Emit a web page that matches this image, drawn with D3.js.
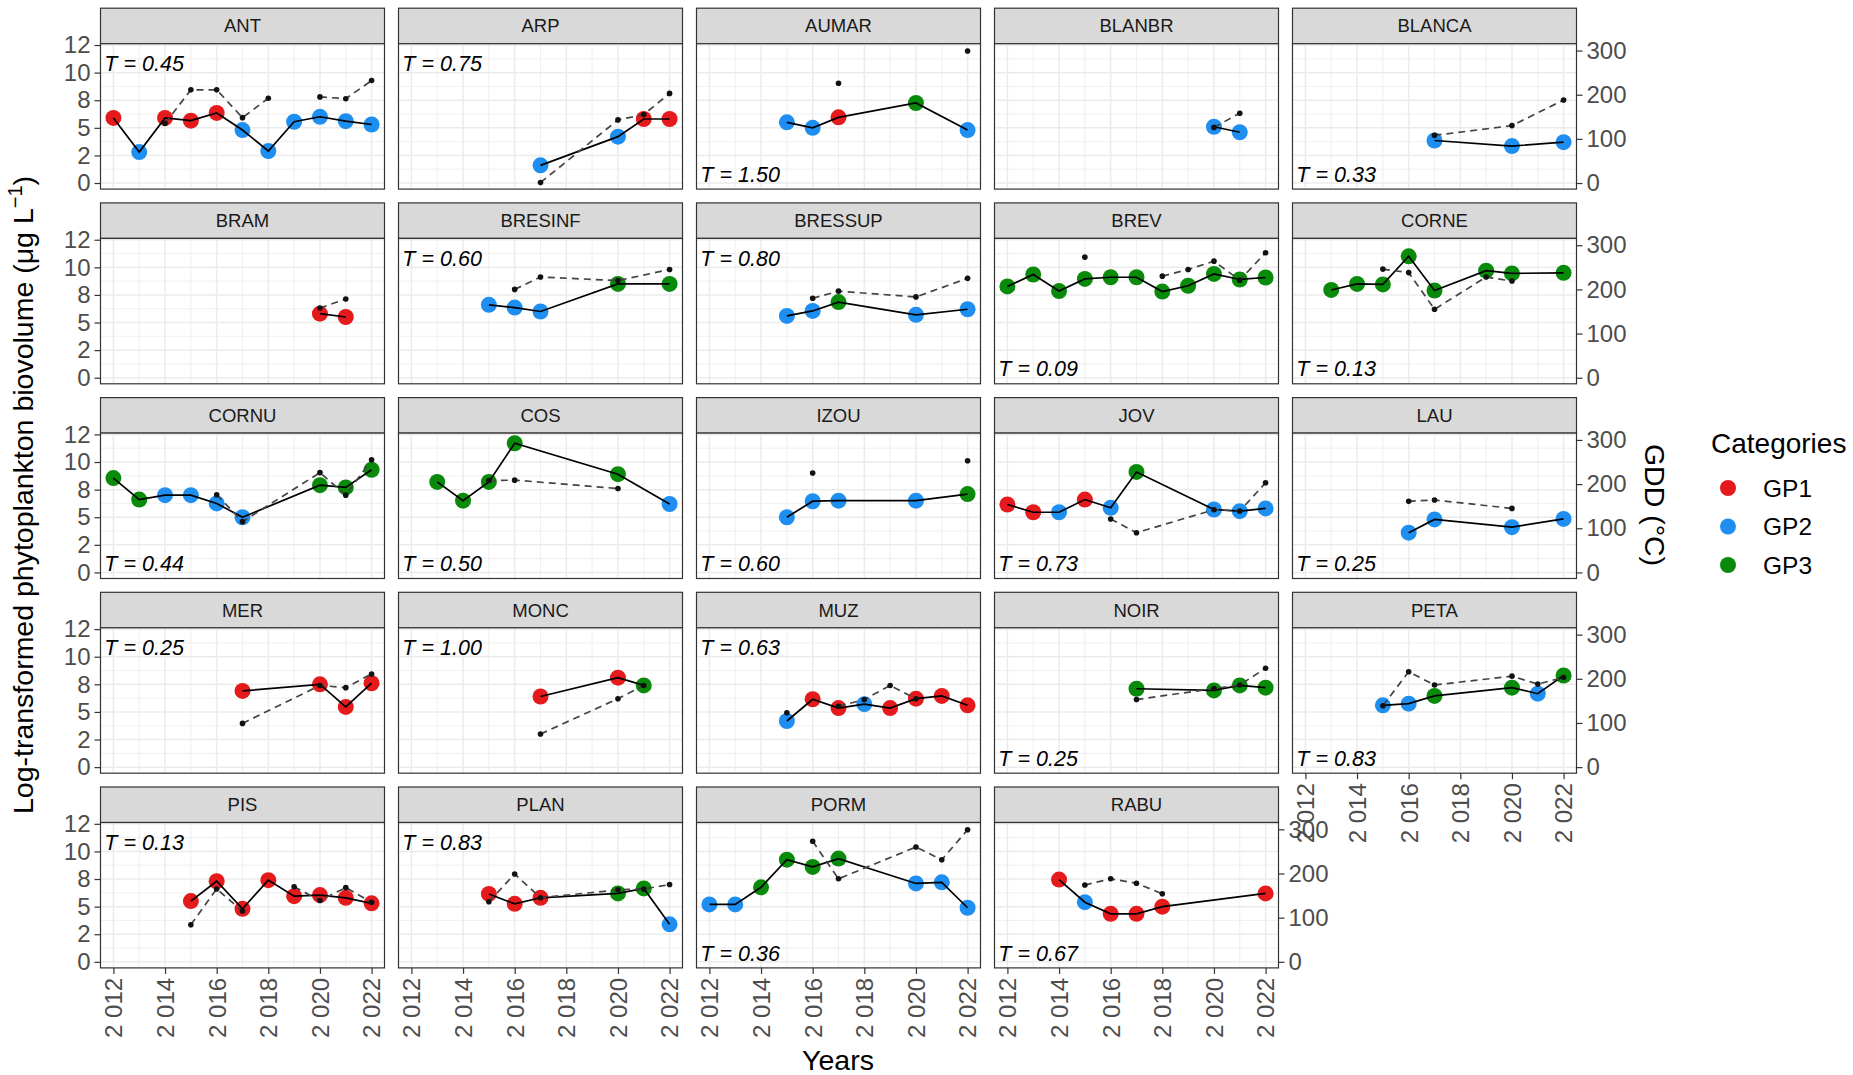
<!DOCTYPE html>
<html>
<head>
<meta charset="utf-8">
<script src="https://cdn.jsdelivr.net/npm/d3@7"></script>
<style>
  body { margin: 0; background: #fff; }
  svg { display: block; }
  text { font-family: "Liberation Sans", Arial, Helvetica, sans-serif; }
</style>
</head>
<body>
<svg id="chart" width="1853" height="1075"></svg>
<script>
// ---- Data: one entry per sampling site (facet) ----
const sites = ["ANT","ARP","AUMAR","BLANBR","BLANCA",
               "BRAM","BRESINF","BRESSUP","BREV","CORNE",
               "CORNU","COS","IZOU","JOV","LAU",
               "MER","MONC","MUZ","NOIR","PETA",
               "PIS","PLAN","PORM","RABU"];

// Sampling years for each site
const siteYears = [
  [2012,2013,2014,2015,2016,2017,2018,2019,2020,2021,2022],
  [2017,2020,2021,2022],
  [2015,2016,2017,2020,2022],
  [2020,2021],
  [2017,2020,2022],
  [2020,2021],
  [2015,2016,2017,2020,2022],
  [2015,2016,2017,2020,2022],
  [2012,2013,2014,2015,2016,2017,2018,2019,2020,2021,2022],
  [2013,2014,2015,2016,2017,2019,2020,2022],
  [2012,2013,2014,2015,2016,2017,2020,2021,2022],
  [2013,2014,2015,2016,2020,2022],
  [2015,2016,2017,2020,2022],
  [2012,2013,2014,2015,2016,2017,2020,2021,2022],
  [2016,2017,2020,2022],
  [2017,2020,2021,2022],
  [2017,2020,2021],
  [2015,2016,2017,2018,2019,2020,2021,2022],
  [2017,2020,2021,2022],
  [2015,2016,2017,2020,2021,2022],
  [2015,2016,2017,2018,2019,2020,2021,2022],
  [2015,2016,2017,2020,2021,2022],
  [2012,2013,2014,2015,2016,2017,2020,2021,2022],
  [2014,2015,2016,2017,2018,2022]
];

// Log-transformed phytoplankton biovolume
const siteBio = [
  [5.9,2.8,5.9,5.65,6.35,4.8,2.9,5.55,6.0,5.6,5.3],
  [1.6,4.2,5.8,5.8],
  [5.5,5.0,5.95,7.25,4.8],
  [5.1,4.6],
  [3.85,3.35,3.7],
  [5.8,5.5],
  [6.6,6.35,6.0,8.5,8.5],
  [5.6,6.05,6.85,5.7,6.2],
  [8.27,9.35,7.85,8.95,9.1,9.1,7.8,8.33,9.4,8.9,9.08],
  [7.95,8.5,8.45,11.0,7.9,9.7,9.45,9.5],
  [8.55,6.6,7.0,7.0,6.25,5.0,7.9,7.7,9.3],
  [8.2,6.5,8.2,11.7,8.9,6.2],
  [5.0,6.45,6.5,6.5,7.1],
  [6.15,5.45,5.45,6.6,5.85,9.1,5.7,5.55,5.8],
  [3.6,4.8,4.1,4.85],
  [6.9,7.5,5.45,7.6],
  [6.4,8.1,7.4],
  [4.18,6.15,5.35,5.7,5.35,6.2,6.45,5.6],
  [7.1,6.95,7.4,7.2],
  [5.6,5.75,6.45,7.2,6.65,8.3],
  [5.5,7.3,4.8,7.4,5.95,6.05,5.8,5.3],
  [6.15,5.25,5.8,6.2,6.65,3.4],
  [5.2,5.2,6.75,9.25,8.6,9.35,7.1,7.2,4.9],
  [7.45,5.4,4.35,4.35,5.0,6.2]
];

// Phytoplankton category of each sample (1 = GP1, 2 = GP2, 3 = GP3)
const siteGroup = [
  [1,2,1,1,1,2,2,2,2,2,2],
  [2,2,1,1],
  [2,2,1,3,2],
  [2,2],
  [2,2,2],
  [1,1],
  [2,2,2,3,3],
  [2,2,3,2,2],
  [3,3,3,3,3,3,3,3,3,3,3],
  [3,3,3,3,3,3,3,3],
  [3,3,2,2,2,2,3,3,3],
  [3,3,3,3,3,2],
  [2,2,2,2,3],
  [1,1,2,1,2,3,2,2,2],
  [2,2,2,2],
  [1,1,1,1],
  [1,1,3],
  [2,1,1,2,1,1,1,1],
  [3,3,3,3],
  [2,2,3,3,2,3],
  [1,1,1,1,1,1,1,1],
  [1,1,1,3,3,2],
  [2,2,3,3,3,3,2,2,2],
  [1,2,1,1,1,1]
];

// Growing degree days (°C); null where not measured
const siteGdd = [
  [null,null,135,211,211,148,192,null,195,191,232],
  [1,143,155,203],
  [null,null,226,null,299],
  [126,158],
  [108,130,188],
  [158,178],
  [null,200,228,220,245],
  [null,180,196,183,225],
  [null,null,null,273,null,null,230,245,264,221,283],
  [null,null,246,238,155,228,219,null],
  [null,null,null,null,176,115,226,175,255],
  [null,null,208,209,190,null],
  [null,225,null,null,253],
  [null,null,null,null,121,90,142,139,203],
  [161,164,145,null],
  [99,185,180,211],
  [75,155,185],
  [123,null,138,153,185,155,null,null],
  [153,178,186,224],
  [139,216,186,206,188,203],
  [84,165,115,null,170,139,168,135],
  [136,199,145,163,165,175],
  [null,null,null,null,273,188,260,231,299],
  [null,174,188,178,154,null]
];

// Trend statistic per site and where its label sits
const tauValues = [0.45,0.75,1.50,null,0.33,
                   null,0.60,0.80,0.09,0.13,
                   0.44,0.50,0.60,0.73,0.25,
                   0.25,1.00,0.63,0.25,0.83,
                   0.13,0.83,0.36,0.67];
const tauPlacement = ["top","top","bottom",null,"bottom",
                      null,"top","top","bottom","bottom",
                      "bottom","bottom","bottom","bottom","bottom",
                      "top","top","top","bottom","bottom",
                      "top","top","bottom","bottom"];

const groupNames = ["GP1","GP2","GP3"];
const groupColors = ["#E41A1C","#1E8FF0","#0A8A0A"];

const yearTicks = [2012,2014,2016,2018,2020,2022];
const yearMinor = [2013,2015,2017,2019,2021];
const bioTicks = [0,2.5,5,7.5,10,12.5];
const bioTickLabels = ["0","2","5","8","10","12"];
const bioMinor = [1.25,3.75,6.25,8.75,11.25];
const gddTicks = [0,100,200,300];
const gddPerUnit = 25;   // secondary axis: GDD = 25 x biovolume units

// ---- Layout ----
const svg = d3.select("#chart");
const nCol = 5;
const panelW = 284, panelH = 145.4, stripH = 35.5;
const colStep = 298, rowStep = 194.7;
const left0 = 100.5, top0 = 43.7;

const x = d3.scaleLinear().domain([2011.5, 2022.5]).range([0, panelW]);
const y = d3.scaleLinear().domain([-0.55, 12.62]).range([panelH, 0]);
const yG = d3.scaleLinear().domain([-0.55 * gddPerUnit, 12.62 * gddPerUnit]).range([panelH, 0]);

const yearFmt = d3.formatLocale({decimal: ".", thousands: " ", grouping: [3], currency: ["", ""]}).format(",");
const tauFmt = d3.format(".2f");

const axisFont = 24, axisCol = "#4D4D4D", tickCol = "#333333";

function styleAxis(g) {
  g.select(".domain").remove();
  g.selectAll(".tick line").attr("stroke", tickCol).attr("stroke-width", 1.2);
  g.selectAll(".tick text").attr("fill", axisCol).style("font-size", axisFont + "px");
}

sites.forEach((site, i) => {
  const c = i % nCol, r = Math.floor(i / nCol);
  const px = left0 + c * colStep, py = top0 + r * rowStep;
  const g = svg.append("g").attr("transform", `translate(${px},${py})`);

  // strip
  g.append("rect").attr("x", 0).attr("y", -stripH).attr("width", panelW).attr("height", stripH)
    .attr("fill", "#D9D9D9").attr("stroke", "#333333").attr("stroke-width", 1.2);
  g.append("text").attr("x", panelW / 2).attr("y", -stripH / 2).attr("dy", "0.35em")
    .attr("text-anchor", "middle").attr("fill", "#1A1A1A").style("font-size", "18.5px").text(site);

  // background + grid
  g.append("rect").attr("width", panelW).attr("height", panelH).attr("fill", "#fff");
  const grid = g.append("g");
  grid.selectAll(".vmin").data(yearMinor).join("line")
    .attr("x1", d => x(d)).attr("x2", d => x(d)).attr("y1", 0).attr("y2", panelH)
    .attr("stroke", "#EBEBEB").attr("stroke-width", 0.8);
  grid.selectAll(".hmin").data(bioMinor).join("line")
    .attr("y1", d => y(d)).attr("y2", d => y(d)).attr("x1", 0).attr("x2", panelW)
    .attr("stroke", "#EBEBEB").attr("stroke-width", 0.8);
  grid.selectAll(".vmaj").data(yearTicks).join("line")
    .attr("x1", d => x(d)).attr("x2", d => x(d)).attr("y1", 0).attr("y2", panelH)
    .attr("stroke", "#EBEBEB").attr("stroke-width", 1.5);
  grid.selectAll(".hmaj").data(bioTicks).join("line")
    .attr("y1", d => y(d)).attr("y2", d => y(d)).attr("x1", 0).attr("x2", panelW)
    .attr("stroke", "#EBEBEB").attr("stroke-width", 1.5);

  const rows = siteYears[i].map((yr, k) => ({
    year: yr, bio: siteBio[i][k], grp: siteGroup[i][k], gdd: siteGdd[i][k]
  }));

  // biovolume points
  g.selectAll(".bio").data(rows).join("circle")
    .attr("cx", d => x(d.year)).attr("cy", d => y(d.bio)).attr("r", 8)
    .attr("fill", d => groupColors[d.grp - 1]);

  // biovolume line
  const bioLine = d3.line().defined(d => d.bio != null).x(d => x(d.year)).y(d => y(d.bio));
  g.append("path").datum(rows).attr("d", bioLine)
    .attr("fill", "none").attr("stroke", "#000").attr("stroke-width", 1.7);

  // GDD dashed line and dots
  const gddLine = d3.line().defined(d => d.gdd != null).x(d => x(d.year)).y(d => yG(d.gdd));
  g.append("path").datum(rows).attr("d", gddLine)
    .attr("fill", "none").attr("stroke", "#444").attr("stroke-width", 1.7)
    .attr("stroke-dasharray", "7,5");
  g.selectAll(".gdd").data(rows.filter(d => d.gdd != null)).join("circle")
    .attr("cx", d => x(d.year)).attr("cy", d => yG(d.gdd)).attr("r", 2.8).attr("fill", "#111");

  // trend label
  if (tauValues[i] != null) {
    const yy = tauPlacement[i] === "top" ? y(10.8) : y(0.8);
    g.append("text").attr("x", x(2011.65)).attr("y", yy).attr("dy", "0.35em")
      .attr("fill", "#000").style("font-size", "21.5px").style("font-style", "italic")
      .text("T = " + tauFmt(tauValues[i]));
  }

  // panel border
  g.append("rect").attr("width", panelW).attr("height", panelH)
    .attr("fill", "none").attr("stroke", "#333333").attr("stroke-width", 1.2);

  // left axis on the first column
  if (c === 0) {
    const ax = g.append("g").call(d3.axisLeft(y).tickValues(bioTicks)
      .tickFormat((d, k) => bioTickLabels[k]).tickSize(6).tickPadding(4));
    styleAxis(ax);
  }
  // right (GDD) axis on the last panel of each row
  if (c === nCol - 1 || i === sites.length - 1) {
    const ax = g.append("g").attr("transform", `translate(${panelW},0)`)
      .call(d3.axisRight(yG).tickValues(gddTicks).tickSize(6).tickPadding(4));
    styleAxis(ax);
  }
  // bottom axis where no panel sits below
  if (i + nCol >= sites.length) {
    const ax = g.append("g").attr("transform", `translate(0,${panelH})`)
      .call(d3.axisBottom(x).tickValues(yearTicks).tickFormat(yearFmt).tickSize(6).tickPadding(4));
    styleAxis(ax);
    ax.selectAll(".tick text")
      .attr("transform", "rotate(-90)").attr("x", -10).attr("y", 0).attr("dy", "0.35em")
      .style("text-anchor", "end");
  }
});

// ---- Axis titles ----
const yTitle = svg.append("text")
  .attr("transform", "translate(33,495) rotate(-90)")
  .attr("text-anchor", "middle").attr("fill", "#000").style("font-size", "28.5px");
yTitle.append("tspan").text("Log-transformed phytoplankton biovolume (\u03bcg L");
yTitle.append("tspan").attr("dy", -11).style("font-size", "20px").text("\u22121");
yTitle.append("tspan").attr("dy", 11).text(")");

svg.append("text").attr("x", 838).attr("y", 1060).attr("dy", "0.35em")
  .attr("text-anchor", "middle").attr("fill", "#000").style("font-size", "28.5px").text("Years");

svg.append("text").attr("transform", "translate(1655,505) rotate(90)")
  .attr("text-anchor", "middle").attr("dy", "0.35em").attr("fill", "#000")
  .style("font-size", "28.5px").text("GDD (\u00b0C)");

// ---- Legend ----
const leg = svg.append("g");
leg.append("text").attr("x", 1711).attr("y", 443).attr("dy", "0.35em")
  .attr("fill", "#000").style("font-size", "28px").text("Categories");
groupNames.forEach((name, k) => {
  const ly = 488 + k * 38.5;
  leg.append("circle").attr("cx", 1728).attr("cy", ly).attr("r", 8).attr("fill", groupColors[k]);
  leg.append("text").attr("x", 1763).attr("y", ly).attr("dy", "0.35em")
    .attr("fill", "#000").style("font-size", "24.5px").text(name);
});
</script>
</body>
</html>
